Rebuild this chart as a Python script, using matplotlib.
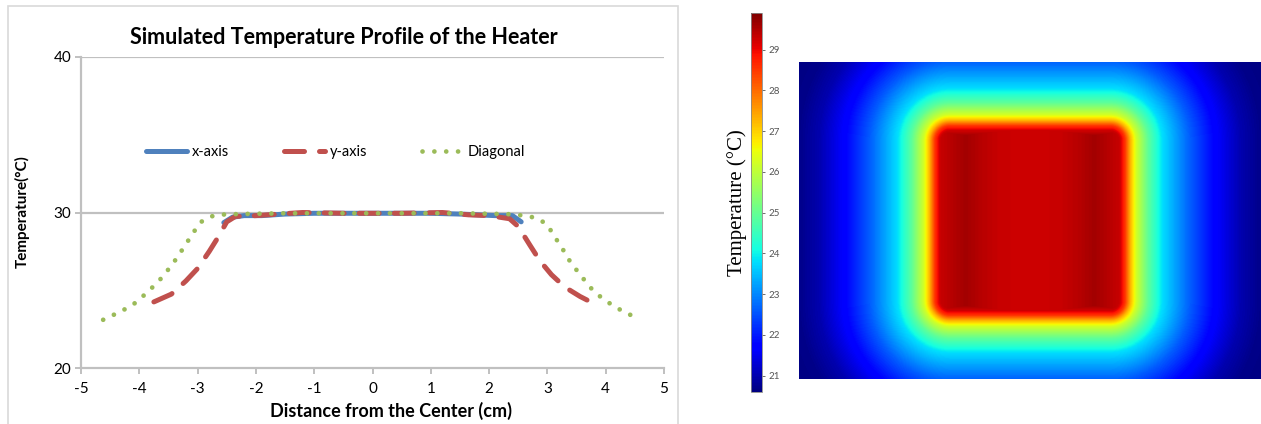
import numpy as np
import matplotlib
matplotlib.use('Agg')
import matplotlib.pyplot as plt
from matplotlib.patches import Rectangle

plt.rcParams['font.family'] = ['Lato', 'DejaVu Sans']
plt.rcParams['axes.unicode_minus'] = False

# line chart: temperature along the heater (cm, degC)
x_axis_pos = [-2.55, -2.4, -2.2, -1.9, -1.5, -1.0, -0.5, 0.0, 0.5, 1.0, 1.5, 1.8, 2.1, 2.4, 2.55]
x_axis_temp = [29.35, 29.7, 29.8, 29.8, 29.9, 29.95, 29.95, 29.95, 29.95, 29.95, 29.9, 29.85, 29.8, 29.8, 29.4]

y_axis_pos = [-3.75, -3.45, -3.2, -3.0, -2.8, -2.65, -2.5, -2.35, -2.0, -1.6, -1.2, -0.5, 0.0, 0.5,
              1.2, 1.65, 2.0, 2.35, 2.5, 2.7, 2.87, 3.07, 3.3, 3.56, 3.82]
y_axis_temp = [24.25, 24.75, 25.6, 26.4, 27.5, 28.4, 29.4, 29.75, 29.8, 29.9, 30.0, 29.95, 29.95, 29.95,
               30.0, 29.85, 29.8, 29.6, 29.1, 27.9, 26.9, 26.0, 25.2, 24.6, 24.1]

diag_pos = [-4.62, -4.45, -4.13, -3.85, -3.59, -3.36, -3.16, -2.96, -2.79, -2.62, -2.3, -1.5, -1.0, 0.0,
            1.0, 1.5, 2.3, 2.5, 2.67, 2.84, 2.99, 3.09, 3.19, 3.29, 3.39, 3.5, 3.73, 3.87, 4.02, 4.33, 4.5]
diag_temp = [23.1, 23.4, 24.0, 24.9, 25.9, 27.05, 28.2, 29.35, 29.73, 29.86, 29.9, 29.95, 29.95, 29.95,
             29.95, 29.95, 29.9, 29.84, 29.77, 29.6, 29.24, 28.66, 28.06, 27.48, 26.84, 26.3, 25.2, 24.7,
             24.27, 23.56, 23.3]

# heat map readings (mm from centre, degC)
# falloff outside the heater square
out_dist = [0.0, 8.0, 9.0, 9.5, 10.0, 10.6, 11.8, 13.2, 16.0, 18.5, 21.0, 23.0, 26.0]
out_temp = [29.9, 29.9, 29.25, 28.5, 27.3, 26.2, 24.9, 23.8, 22.6, 21.7, 21.0, 20.7, 20.6]
# inside the square, read across x (darker vertical bands near the sides)
in_x = [0.0, 3.0, 5.0, 6.4, 7.8, 9.0, 12.0]
in_temp = [29.25, 29.3, 29.45, 29.6, 29.45, 29.3, 29.3]
map_half_w, map_half_h, heater_core = 23.0, 15.8, 8.0
cbar_ticks = [21, 22, 23, 24, 25, 26, 27, 28, 29]

W, H = 1261, 424
fig = plt.figure(figsize=(W / 100, H / 100), dpi=100)

# chart border
fig.patches.append(Rectangle((8 / W, -0.05), 670 / W, 1 - 6 / H + 0.05, transform=fig.transFigure,
                             fill=False, edgecolor='#d9d9d9', linewidth=1.2))

ax = fig.add_axes([81 / W, 1 - 368 / H, 583 / W, 311 / H])
grid_c = '#c0c0c0'
ax.plot(x_axis_pos, x_axis_temp, color='#4f81bd', linewidth=3.6, solid_capstyle='round', label='x-axis')
ax.plot(y_axis_pos, y_axis_temp, color='#c0504d', linewidth=3.6, dashes=(4, 3), dash_capstyle='round',
        label='y-axis')
ax.plot(diag_pos, diag_temp, color='#9bbb59', linewidth=3.4, dashes=(0.01, 2.5), dash_capstyle='round',
        label='Diagonal')
ax.set_xlim(-5, 5)
ax.set_ylim(20, 40)
ax.set_xticks(range(-5, 6))
ax.set_yticks([20, 30, 40])
for y in (30, 40):
    ax.axhline(y, color=grid_c, linewidth=1.6, zorder=0)
for s in ('top', 'right'):
    ax.spines[s].set_visible(False)
for s in ('left', 'bottom'):
    ax.spines[s].set_color(grid_c)
    ax.spines[s].set_linewidth(1.6)
ax.tick_params(axis='both', colors=grid_c, labelcolor='black', labelsize=11, length=4, width=1.4)
ax.tick_params(axis='x', pad=6)
ax.tick_params(axis='y', pad=3)
ax.legend(loc='center', bbox_to_anchor=(0.437, 0.695), ncol=3, frameon=False, fontsize=10.5,
          handlelength=2.8, columnspacing=3.8, handletextpad=0.3)

fig.text(344 / W, 1 - 38 / H, 'Simulated Temperature Profile of the Heater', ha='center', va='center',
         fontsize=15.5, fontweight='bold')
fig.text(391 / W, 1 - 411 / H, 'Distance from the Center (cm)', ha='center', va='center',
         fontsize=13, fontweight='bold')
fig.text(22 / W, 1 - 212 / H, 'Temperature(°C)', ha='center', va='center', rotation=90,
         fontsize=11, fontweight='bold')

# heat map: rounded-square distance from the heater core, mapped through the read profiles
gx = np.linspace(-map_half_w, map_half_w, 461)
gy = np.linspace(-map_half_h, map_half_h, 317)
X, Y = np.meshgrid(gx, gy)
ox = np.clip(np.abs(X) - heater_core, 0, None)
oy = np.clip(np.abs(Y) - heater_core, 0, None)
d = heater_core + np.hypot(ox, oy)
field = np.minimum(np.interp(d, out_dist, out_temp), np.interp(np.abs(X), in_x, in_temp))

hax = fig.add_axes([799 / W, 1 - 379 / H, 462 / W, 317 / H])
img = hax.imshow(field, cmap='jet', vmin=20.6, vmax=29.9, origin='lower', aspect='auto',
                 extent=(-map_half_w, map_half_w, -map_half_h, map_half_h))
hax.axis('off')

cax = fig.add_axes([751 / W, 1 - 392 / H, 11 / W, 379 / H])
cb = fig.colorbar(img, cax=cax, ticks=cbar_ticks)
cb.outline.set_edgecolor('#888888')
cb.outline.set_linewidth(0.6)
cax.tick_params(labelsize=7, colors='#555555', length=2, width=0.6, pad=3)
cax.yaxis.set_label_position('left')
cb.set_label('Temperature (°C)', family=['Liberation Serif', 'DejaVu Serif'], fontsize=15, labelpad=3)

fig.savefig('out.png', dpi=100)
